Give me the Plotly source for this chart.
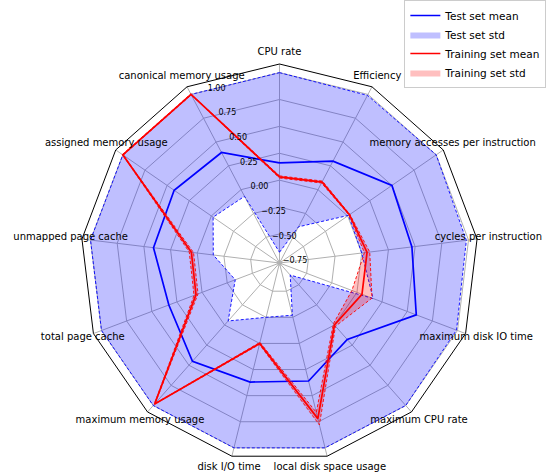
import plotly.graph_objects as go

categories = ["CPU rate", "Efficiency", "memory accesses per instruction",
              "cycles per instruction", "maximum disk IO time", "maximum CPU rate",
              "local disk space usage", "disk I/O time", "maximum memory usage",
              "total page cache", "unmapped page cache", "assigned memory usage",
              "canonical memory usage"]

test_mean = [0.16, 0.30, 0.50, 0.47, 0.59, 0.18, 0.36, 0.37, 0.45, 0.33, 0.41, 0.42, 0.39]
test_upper = [1.0, 0.99, 1.0, 0.98, 0.99, 1.0, 1.0, 1.0, 1.0, 1.0, 1.0, 1.0, 1.0]
test_lower = [-0.67, -0.39, 0.01, 0.0, 0.16, -0.62, -0.27, -0.25, -0.05, -0.33, -0.15, -0.02, -0.07]

train_mean = [0.03, 0.08, 0.02, 0.05, 0.05, 0.00, 0.72, 0.00, 0.98, 0.06, 0.055, 1.00, 1.00]
train_std = [0.01, 0.01, 0.005, 0.025, 0.10, 0.015, 0.06, 0.01, 0.005, 0.02, 0.02, 0.005, 0.005]

radial_ticks = [-0.75, -0.5, -0.25, 0.0, 0.25, 0.5, 0.75, 1.0]
r_min, r_max = -0.77, 1.08
label_r, label_rmax = 1.186, 1.20  # category labels sit just outside the frame

train_upper = [m + s for m, s in zip(train_mean, train_std)]
train_lower = [m - s for m, s in zip(train_mean, train_std)]


def closed(vals):
    # repeat the first point so the polygon closes
    return list(vals) + [vals[0]]


theta = closed(categories)
fig = go.Figure()

# test set band
fig.add_trace(go.Scatterpolar(r=closed(test_lower), theta=theta, mode="lines",
                              line=dict(width=0), showlegend=False, hoverinfo="skip"))
fig.add_trace(go.Scatterpolar(r=closed(test_upper), theta=theta, mode="lines", fill="tonext",
                              fillcolor="rgba(0,0,255,0.25)", line=dict(width=0),
                              name="Test set std", legendrank=2))
for band in (test_lower, test_upper):
    fig.add_trace(go.Scatterpolar(r=closed(band), theta=theta, mode="lines",
                                  line=dict(color="blue", width=0.9, dash="3px,2px"),
                                  showlegend=False))
fig.add_trace(go.Scatterpolar(r=closed(test_mean), theta=theta, mode="lines",
                              line=dict(color="blue", width=1.7),
                              name="Test set mean", legendrank=1))

# training set band
fig.add_trace(go.Scatterpolar(r=closed(train_lower), theta=theta, mode="lines",
                              line=dict(width=0), showlegend=False, hoverinfo="skip"))
fig.add_trace(go.Scatterpolar(r=closed(train_upper), theta=theta, mode="lines", fill="tonext",
                              fillcolor="rgba(255,0,0,0.25)", line=dict(width=0),
                              name="Training set std", legendrank=4))
for band in (train_lower, train_upper):
    fig.add_trace(go.Scatterpolar(r=closed(band), theta=theta, mode="lines",
                                  line=dict(color="red", width=0.9, dash="3px,2px"),
                                  showlegend=False))
fig.add_trace(go.Scatterpolar(r=closed(train_mean), theta=theta, mode="lines",
                              line=dict(color="red", width=1.7),
                              name="Training set mean", legendrank=3))

# category labels, centred just outside the frame (on an invisible, slightly larger polar)
fig.add_trace(go.Scatterpolar(r=[label_r] * len(categories), theta=categories, mode="text",
                              text=categories, textposition="middle center",
                              textfont=dict(size=10, color="black"), subplot="polar2",
                              cliponaxis=False, showlegend=False, hoverinfo="skip"))

# the overlay polar shares the centre and the pixel scale of the main one
cx, cy, R = 279.5, 263.0, 199.0
R2 = R * (label_rmax - r_min) / (r_max - r_min)
W, H = 548, 475

fig.update_layout(
    width=W, height=H, autosize=False,
    margin=dict(l=0, r=0, t=0, b=0),
    paper_bgcolor="white",
    font=dict(family="DejaVu Sans", size=10, color="black"),
    polar=dict(
        domain=dict(x=[(cx - R) / W, (cx + R) / W], y=[1 - (cy + R) / H, 1 - (cy - R) / H]),
        gridshape="linear",
        bgcolor="white",
        radialaxis=dict(range=[r_min, r_max], tickvals=radial_ticks, showticklabels=False,
                        showline=False, ticks="",
                        gridcolor="#b0b0b0", gridwidth=0.8, layer="above traces"),
        angularaxis=dict(rotation=90, direction="clockwise", type="category",
                         showline=True, linecolor="black", linewidth=1,
                         gridcolor="#b0b0b0", gridwidth=0.8, ticks="",
                         showticklabels=False, layer="above traces"),
    ),
    # circular overlay: carries the radial tick labels (free angle) and the category labels
    polar2=dict(
        domain=dict(x=[(cx - R2) / W, (cx + R2) / W], y=[max(0, 1 - (cy + R2) / H), 1 - (cy - R2) / H]),
        bgcolor="rgba(0,0,0,0)",
        radialaxis=dict(range=[r_min, label_rmax], tickvals=radial_ticks, tickformat=".2f",
                        angle=113.5, tickangle=113.5, showgrid=False, showline=False,
                        ticks="", tickfont=dict(size=8, color="black")),
        angularaxis=dict(rotation=90, direction="clockwise", type="category",
                         categoryarray=categories, visible=False),
    ),
    legend=dict(x=0.997, y=1.0, xanchor="right", yanchor="top",
                bgcolor="rgba(255,255,255,0.8)", bordercolor="#cccccc", borderwidth=1,
                font=dict(size=10.5), tracegroupgap=0, itemwidth=30),
)

fig.write_html("out.html", config={"displayModeBar": False},
               post_script="document.body.style.margin='0px';")
